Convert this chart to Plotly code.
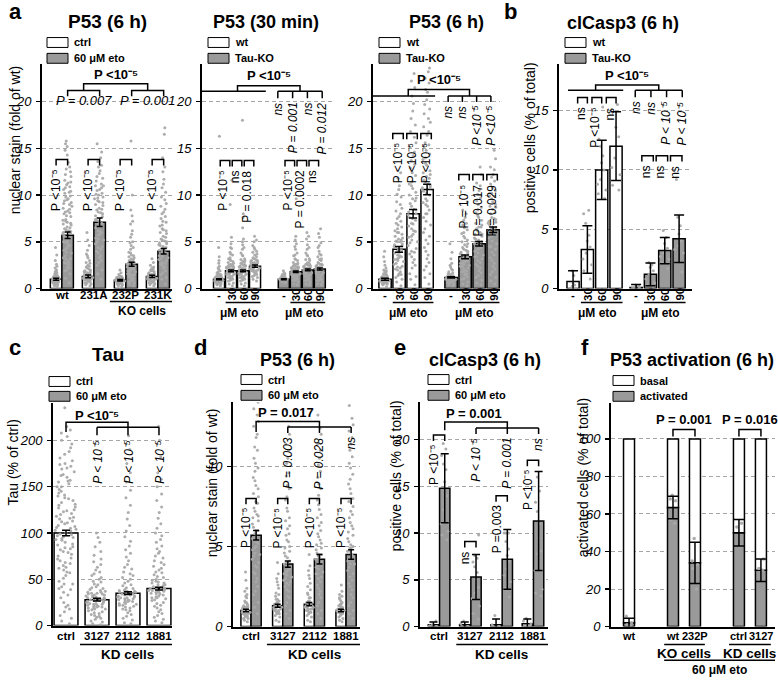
import plotly.graph_objects as go

W, H = 778, 686
FONT = "Arial, 'Liberation Sans', Helvetica, sans-serif"
BAR_GRAY = "#9a9a9a"
DOT_GRAY = "#a9a9a9"
P5 = "P &lt;10⁻⁵"
P5s = "P &lt; 10⁻⁵"

# ======================= DATA =======================
# ---- a1: P53 (6 h), KO cells rescue ----
a1_groups = ["wt", "231A", "232P", "231K"]
a1_ctrl_mean = [1.0, 1.3, 0.9, 1.3]
a1_ctrl_err = [0.1, 0.15, 0.08, 0.12]
a1_eto_mean = [5.7, 7.1, 2.6, 4.0]
a1_eto_err = [0.35, 0.45, 0.22, 0.3]
a1_ctrl_dots = [
    [0.2, 0.4, 0.5, 0.6, 0.7, 0.7, 0.8, 0.8, 0.9, 0.9, 1.0, 1.0, 1.0, 1.1, 1.1, 1.2, 1.2, 1.3, 1.3, 1.4, 1.5, 1.6,
     0.5, 0.6, 0.8, 0.9, 1.0, 1.1, 1.7, 1.9, 2.2, 2.6, 3.0, 3.6, 4.4, 0.3, 0.7, 1.2,
     0.4, 0.5, 0.6, 0.7, 0.8, 0.9, 1.0, 1.1, 1.2, 1.3, 0.6, 0.8, 1.0, 1.2, 1.4, 0.9, 1.1, 2.0, 2.4, 1.8],
    [0.3, 0.5, 0.7, 0.8, 0.9, 1.0, 1.1, 1.2, 1.3, 1.4, 1.5, 1.6, 1.7, 1.8, 1.9, 2.0, 2.2, 2.4, 2.7, 3.0, 3.3, 3.7,
     4.1, 4.6, 5.2, 6.0, 0.6, 1.0, 1.3, 1.5, 1.8, 2.1, 2.5,
     0.4, 0.6, 0.8, 1.0, 1.1, 1.2, 1.4, 1.6, 1.7, 1.9, 2.3, 2.8, 3.5, 0.9, 1.3],
    [0.2, 0.4, 0.5, 0.6, 0.7, 0.8, 0.8, 0.9, 0.9, 1.0, 1.0, 1.1, 1.1, 1.2, 1.3, 1.4, 0.6, 0.7, 0.9, 1.0, 1.2, 1.5,
     1.7, 2.0, 0.5, 0.8, 0.3, 0.5, 0.7, 0.8, 0.9, 1.0, 1.1, 1.2, 0.6, 0.9, 1.0, 1.3],
    [0.3, 0.5, 0.7, 0.8, 0.9, 1.0, 1.1, 1.2, 1.3, 1.4, 1.5, 1.6, 1.7, 1.8, 2.0, 2.2, 2.5, 2.8, 3.2, 0.6, 0.9, 1.1,
     1.3, 1.5, 1.9, 2.3, 1.0, 1.2, 0.4, 0.6, 0.8, 1.0, 1.1, 1.2, 1.4, 1.6, 1.9, 2.1, 0.9, 1.3, 0.7, 1.5],
]
a1_eto_dots = [
    [0.6, 1.1, 1.6, 2.0, 2.3, 2.6, 2.9, 3.2, 3.5, 3.8, 4.1, 4.4, 4.7, 5.0, 5.3, 5.6, 5.9, 6.2, 6.5, 6.8, 7.1, 7.4,
     7.8, 8.2, 8.6, 9.0, 9.4, 9.8, 10.2, 10.6, 11.1, 11.6, 12.2, 12.8, 13.5, 14.3, 15.2, 15.8, 4.9, 5.4, 6.0, 6.6,
     7.2, 8.0, 8.8, 9.6, 10.4, 3.3, 2.8, 1.9, 9.2, 10.9, 11.3,
     3.9, 4.3, 4.6, 5.1, 5.5, 5.8, 6.1, 6.4, 6.9, 7.3, 7.7, 8.1, 8.5, 9.1, 9.5, 9.9, 10.3, 10.8, 11.4, 12.0, 12.5,
     13.0, 2.2, 2.7, 3.1, 14.8, 15.5, 6.3, 7.0, 8.3],
    [1.0, 2.0, 2.8, 3.5, 4.0, 4.5, 5.0, 5.4, 5.8, 6.2, 6.6, 7.0, 7.4, 7.8, 8.2, 8.6, 9.0, 9.4, 9.8, 10.2, 10.6, 11.0,
     11.5, 12.0, 12.6, 13.2, 14.0, 15.5, 6.0, 7.2, 8.0, 9.2, 10.0, 10.8, 5.2, 4.2, 3.0, 8.4, 9.6, 11.2,
     3.3, 3.8, 4.4, 4.8, 5.3, 5.7, 6.1, 6.5, 6.9, 7.3, 7.7, 8.1, 8.5, 8.9, 9.3, 9.7, 10.1, 10.5, 11.0, 11.8, 12.3,
     13.0, 13.6, 14.6, 2.5, 1.6],
    [0.3, 0.6, 0.9, 1.1, 1.3, 1.5, 1.7, 1.9, 2.0, 2.1, 2.2, 2.3, 2.4, 2.5, 2.6, 2.7, 2.8, 3.0, 3.2, 3.4, 3.6, 3.9,
     4.2, 4.6, 5.0, 5.5, 6.2, 6.9, 7.8, 8.4, 10.0, 15.8, 1.8, 2.4, 2.9, 3.3, 1.2, 0.8,
     0.5, 1.0, 1.4, 1.6, 1.9, 2.1, 2.3, 2.5, 2.7, 2.9, 3.1, 3.5, 3.8, 4.4, 4.9, 5.8, 7.2, 0.7, 1.5, 2.2],
    [0.5, 1.0, 1.5, 1.9, 2.2, 2.5, 2.8, 3.0, 3.2, 3.4, 3.6, 3.8, 4.0, 4.2, 4.4, 4.6, 4.8, 5.0, 5.3, 5.6, 6.0, 6.4,
     6.8, 7.2, 7.7, 8.2, 8.8, 9.5, 10.3, 11.2, 12.5, 14.0, 16.5, 17.2, 3.5, 4.1, 5.1, 2.6, 4.5, 6.2,
     1.2, 1.7, 2.3, 2.7, 3.1, 3.3, 3.7, 3.9, 4.3, 4.7, 4.9, 5.2, 5.5, 5.9, 6.3, 6.7, 7.1, 7.5, 8.0, 8.5, 9.1, 9.8,
     10.8, 11.7, 13.0],
]

# ---- a2: P53 (30 min), wt vs Tau-KO ----
dose_labels = ["-", "30", "60", "90"]
a2_wt_mean = [1.0, 1.9, 1.9, 2.4]
a2_wt_err = [0.06, 0.1, 0.1, 0.12]
a2_ko_mean = [1.0, 1.8, 2.0, 2.1]
a2_ko_err = [0.05, 0.09, 0.1, 0.1]
a2_wt_dots = [
    [0.3, 0.5, 0.6, 0.7, 0.8, 0.8, 0.9, 0.9, 1.0, 1.0, 1.1, 1.1, 1.2, 1.2, 1.3, 1.4, 1.5, 1.6, 1.7, 1.9, 2.1, 2.4,
     2.7, 3.0, 3.4, 4.4, 16.3, 0.6, 0.9, 1.0, 1.2, 1.4, 1.0, 0.8,
     0.5, 0.6, 0.7, 0.8, 0.9, 1.0, 1.1, 1.2, 1.3, 1.5, 0.7, 0.9, 1.1, 1.3, 1.8, 2.2, 0.4, 1.0, 1.2, 0.8],
    [0.3, 0.6, 0.8, 1.0, 1.2, 1.3, 1.5, 1.6, 1.7, 1.8, 1.9, 2.0, 2.1, 2.2, 2.3, 2.4, 2.5, 2.7, 2.9, 3.1, 3.3, 3.6,
     3.9, 4.3, 4.8, 5.5, 9.0, 11.6, 1.4, 1.9, 2.2, 2.6, 1.1, 1.7,
     0.5, 0.9, 1.2, 1.5, 1.7, 1.9, 2.1, 2.3, 2.5, 2.8, 3.2, 3.7, 4.4, 1.0, 1.6, 2.0, 2.4, 3.0, 1.8, 2.2],
    [0.3, 0.6, 0.8, 1.0, 1.2, 1.4, 1.5, 1.6, 1.7, 1.8, 1.9, 2.0, 2.1, 2.2, 2.3, 2.4, 2.6, 2.8, 3.0, 3.2, 3.5, 3.8,
     4.2, 4.7, 5.3, 6.5, 7.6, 8.0, 18.0, 1.3, 1.9, 2.5, 1.0,
     0.5, 0.9, 1.2, 1.5, 1.7, 1.9, 2.1, 2.3, 2.5, 2.7, 3.1, 3.6, 4.4, 1.1, 1.6, 2.0, 2.4, 2.9, 1.8, 5.0],
    [0.8, 1.2, 1.5, 1.7, 1.9, 2.0, 2.1, 2.2, 2.3, 2.4, 2.5, 2.6, 2.7, 2.8, 3.0, 3.2, 3.4, 3.6, 3.9, 4.2, 4.6, 5.0,
     5.6, 2.0, 2.4, 2.9, 1.6,
     1.0, 1.4, 1.8, 2.1, 2.3, 2.5, 2.7, 2.9, 3.1, 3.3, 3.7, 4.0, 4.4, 1.9, 2.2, 2.6, 3.0, 2.8, 5.2, 1.3],
]
a2_ko_dots = [
    [0.6, 0.7, 0.8, 0.8, 0.9, 0.9, 1.0, 1.0, 1.0, 1.1, 1.1, 1.2, 1.2, 1.3, 1.4, 1.5, 1.7, 1.9, 0.9, 1.0, 1.1,
     0.7, 0.8, 0.9, 1.0, 1.1, 1.2, 1.3, 0.9, 1.0, 1.1, 1.4, 1.6, 0.8, 1.2],
    [0.4, 0.7, 0.9, 1.1, 1.3, 1.4, 1.5, 1.6, 1.7, 1.8, 1.9, 2.0, 2.1, 2.2, 2.3, 2.4, 2.6, 2.8, 3.0, 3.2, 3.5, 3.8,
     4.2, 4.8, 5.6, 9.6, 1.5, 1.8, 2.0, 2.3, 1.2, 1.6,
     0.5, 0.9, 1.2, 1.5, 1.7, 1.9, 2.1, 2.3, 2.5, 2.7, 3.1, 3.6, 4.5, 1.4, 1.8, 2.2, 2.6, 1.0, 5.2, 2.0],
    [0.4, 0.7, 0.9, 1.1, 1.3, 1.5, 1.6, 1.7, 1.8, 1.9, 2.0, 2.1, 2.2, 2.3, 2.4, 2.6, 2.8, 3.0, 3.2, 3.5, 3.8, 4.2,
     4.7, 5.3, 1.6, 1.9, 2.2, 2.5, 1.2, 6.0,
     0.5, 0.9, 1.2, 1.5, 1.7, 1.9, 2.1, 2.3, 2.5, 2.7, 3.1, 3.6, 4.4, 1.4, 1.8, 2.2, 2.6, 1.0, 5.6, 2.0],
    [0.4, 0.7, 0.9, 1.1, 1.3, 1.5, 1.7, 1.8, 1.9, 2.0, 2.1, 2.2, 2.3, 2.4, 2.6, 2.8, 3.0, 3.2, 3.4, 3.7, 4.0, 4.4,
     4.9, 5.5, 6.4, 1.6, 2.0, 2.5, 1.0,
     0.5, 0.9, 1.2, 1.5, 1.7, 1.9, 2.1, 2.3, 2.5, 2.7, 3.1, 3.6, 4.6, 1.4, 1.8, 2.2, 2.6, 1.0, 5.9, 2.0],
]

# ---- a3: P53 (6 h), wt vs Tau-KO ----
a3_wt_mean = [1.0, 4.2, 8.0, 10.6]
a3_wt_err = [0.1, 0.3, 0.45, 0.55]
a3_ko_mean = [1.2, 3.4, 4.8, 6.3]
a3_ko_err = [0.08, 0.2, 0.25, 0.3]
a3_wt_dots = [
    [0.2, 0.4, 0.5, 0.6, 0.7, 0.8, 0.8, 0.9, 0.9, 1.0, 1.0, 1.1, 1.1, 1.2, 1.3, 1.4, 1.5, 1.7, 1.9, 2.2, 2.5, 2.9,
     3.4, 4.0, 0.6, 0.9, 1.2, 1.0, 0.7, 1.6,
     0.5, 0.6, 0.7, 0.8, 0.9, 1.0, 1.1, 1.2, 1.3, 1.5, 0.7, 0.9, 1.1, 1.8, 2.0],
    [0.3, 0.7, 1.0, 1.4, 1.8, 2.1, 2.4, 2.7, 3.0, 3.3, 3.6, 3.9, 4.2, 4.5, 4.8, 5.1, 5.4, 5.8, 6.2, 6.6, 7.0, 7.5,
     8.0, 8.6, 9.3, 10.1, 11.0, 12.4, 2.0, 3.1, 4.0, 5.0, 6.0, 1.2, 2.6, 3.5,
     1.5, 2.3, 2.9, 3.4, 3.8, 4.1, 4.4, 4.7, 5.0, 5.3, 5.6, 6.0, 6.4, 6.8, 7.2, 7.7, 8.3, 9.0, 9.8, 10.6, 3.2, 4.6,
     5.2, 2.2, 1.6, 11.8],
    [0.4, 1.0, 1.6, 2.2, 2.8, 3.4, 4.0, 4.6, 5.2, 5.8, 6.4, 7.0, 7.6, 8.2, 8.8, 9.4, 10.0, 10.7, 11.4, 12.1, 12.9,
     13.7, 14.6, 15.6, 16.8, 18.2, 19.8, 21.5, 23.0, 5.5, 7.3, 8.5, 9.7, 6.7, 3.7, 11.0,
     1.3, 2.5, 3.1, 3.9, 4.3, 4.9, 5.6, 6.1, 6.9, 7.5, 7.9, 8.4, 9.1, 9.6, 10.3, 11.2, 12.4, 13.3, 14.2, 15.1, 16.2,
     17.5, 19.0, 20.6, 22.2, 8.0, 6.2, 5.0],
    [0.5, 1.2, 2.0, 2.8, 3.6, 4.4, 5.2, 6.0, 6.8, 7.6, 8.4, 9.2, 10.0, 10.8, 11.6, 12.4, 13.2, 14.0, 14.8, 15.6,
     16.4, 17.3, 18.2, 19.2, 20.2, 21.3, 22.5, 23.6, 9.0, 10.4, 11.2, 12.0, 8.0, 13.8, 15.2,
     1.6, 2.4, 3.2, 4.0, 4.8, 5.6, 6.4, 7.2, 8.0, 8.8, 9.6, 10.2, 10.6, 11.0, 11.4, 11.8, 12.6, 13.4, 14.4, 15.4,
     16.8, 17.8, 18.7, 19.7, 21.0, 22.0, 23.2, 9.4, 10.8, 12.2],
]
a3_ko_dots = [
    [0.3, 0.5, 0.6, 0.7, 0.8, 0.9, 1.0, 1.0, 1.1, 1.1, 1.2, 1.3, 1.4, 1.5, 1.6, 1.8, 2.0, 2.3, 2.7, 3.2, 3.9, 4.8,
     0.8, 1.2, 1.0, 0.9, 0.4, 0.6, 0.8, 0.9, 1.0, 1.1, 1.2, 1.3, 1.5, 1.7, 2.1, 2.5, 0.7, 1.4],
    [0.3, 0.7, 1.0, 1.3, 1.6, 1.9, 2.2, 2.5, 2.8, 3.0, 3.2, 3.4, 3.6, 3.9, 4.2, 4.5, 4.8, 5.2, 5.6, 6.0, 6.5, 7.0,
     7.6, 8.4, 9.3, 2.4, 3.3, 2.9, 4.0, 1.8,
     0.5, 1.1, 1.5, 1.8, 2.1, 2.4, 2.7, 3.1, 3.3, 3.5, 3.8, 4.1, 4.4, 4.7, 5.0, 5.4, 5.9, 6.3, 6.8, 7.3, 8.0, 2.6,
     3.7, 3.0],
    [0.4, 0.9, 1.4, 1.9, 2.4, 2.8, 3.2, 3.6, 4.0, 4.4, 4.8, 5.2, 5.6, 6.0, 6.4, 6.8, 7.3, 7.8, 8.4, 9.0, 9.7, 10.5,
     11.3, 12.2, 13.0, 4.6, 5.0, 3.4, 5.8, 6.6,
     0.6, 1.2, 1.7, 2.2, 2.6, 3.0, 3.4, 3.8, 4.2, 4.6, 5.0, 5.4, 5.8, 6.2, 6.6, 7.0, 7.6, 8.1, 8.7, 9.4, 10.1, 11.0,
     4.3, 4.9, 5.3],
    [0.5, 1.2, 1.8, 2.4, 3.0, 3.6, 4.2, 4.8, 5.4, 6.0, 6.5, 7.0, 7.5, 8.0, 8.5, 9.0, 9.6, 10.2, 10.8, 11.5, 12.2,
     13.0, 13.9, 14.8, 5.7, 6.3, 6.8, 7.2, 4.5, 8.8,
     0.8, 1.5, 2.1, 2.7, 3.3, 3.9, 4.5, 5.1, 5.6, 6.1, 6.6, 7.1, 7.6, 8.1, 8.7, 9.3, 9.9, 10.5, 11.2, 11.9, 12.7,
     6.2, 6.4, 5.9, 7.4],
]

# ---- b: clCasp3 (6 h), wt vs Tau-KO ----
b_wt_mean = [0.6, 3.3, 10.0, 12.0]
b_wt_err = [0.9, 2.0, 2.5, 2.9]
b_ko_mean = [0.1, 1.2, 3.2, 4.2]
b_ko_err = [0.25, 0.95, 1.1, 2.0]
b_wt_dots = [
    [0.0, 0.0, 0.0, 0.3, 0.5, 1.1, 1.5, 0.0, 0.2],
    [0.8, 1.5, 2.0, 2.5, 3.0, 3.5, 4.0, 4.5, 5.5, 6.3, 6.6],
    [7.6, 8.0, 8.3, 8.8, 9.2, 10.0, 10.6, 11.2, 12.0, 12.6, 15.3],
    [8.3, 8.7, 10.2, 11.0, 12.8, 13.6, 15.5, 9.6],
]
b_ko_dots = [
    [0.0, 0.0, 0.1, 0.2, 0.3, 0.0, 0.0],
    [0.2, 0.5, 0.8, 1.2, 1.5, 1.8, 2.0, 2.2, 0.3],
    [1.7, 2.2, 2.7, 3.0, 3.4, 3.8, 4.3, 4.9, 2.5],
    [1.4, 2.2, 3.0, 3.6, 4.0, 4.6, 5.3, 6.0, 9.2, 3.3],
]

# ---- c: Tau in KD cells ----
kd_groups = ["ctrl", "3127", "2112", "1881"]
c_mean = [100, 28, 35, 40]
c_err = [3, 1.5, 1.5, 1.5]
c_dots = [
    [2, 8, 15, 22, 30, 36, 42, 48, 54, 60, 65, 70, 75, 80, 85, 90, 95, 100, 105, 110, 115, 120, 125, 130, 135, 140,
     145, 150, 155, 160, 166, 172, 178, 185, 192, 200, 208, 215, 58, 72, 88, 98, 108, 118, 128, 138, 150, 162, 174,
     45, 82, 102, 124, 96, 112, 235,
     5, 11, 18, 25, 33, 39, 45, 51, 57, 63, 67, 73, 77, 83, 87, 93, 97, 103, 107, 113, 117, 123, 127, 133, 137, 143,
     147, 153, 157, 163, 169, 175, 181, 188, 196, 204, 211, 20, 40, 62, 79, 92, 99, 104, 111, 121, 131, 141, 156,
     170, 68, 84, 94, 106, 116],
    [1, 4, 7, 10, 13, 16, 18, 20, 22, 24, 26, 28, 30, 32, 34, 36, 38, 40, 42, 45, 48, 52, 56, 60, 66, 72, 80, 90,
     100, 15, 21, 25, 29, 33, 27, 19, 23, 31, 35,
     2, 5, 8, 11, 14, 17, 19, 21, 23, 25, 27, 29, 31, 33, 35, 37, 39, 41, 44, 47, 50, 54, 58, 63, 69, 76, 85, 95, 18,
     22, 26, 30, 34, 28, 24, 20, 32, 36, 12, 9],
    [2, 6, 10, 14, 17, 20, 23, 26, 28, 30, 32, 34, 36, 38, 40, 43, 46, 50, 54, 58, 63, 70, 78, 86, 96, 108, 122, 138,
     155, 175, 205, 25, 29, 33, 37, 31, 27, 22,
     3, 8, 12, 16, 19, 22, 24, 27, 29, 31, 33, 35, 37, 39, 41, 44, 48, 52, 56, 61, 66, 74, 82, 91, 102, 115, 130, 146,
     165, 190, 24, 28, 32, 36, 30, 26, 34, 38, 21, 18],
    [3, 7, 11, 15, 19, 22, 25, 28, 31, 34, 37, 40, 43, 46, 49, 52, 55, 58, 62, 66, 70, 75, 80, 86, 93, 100, 110, 122,
     135, 150, 165, 215, 35, 39, 44, 48, 41, 36, 30,
     5, 9, 13, 17, 21, 24, 27, 30, 33, 36, 38, 41, 44, 47, 50, 53, 57, 60, 64, 68, 73, 78, 83, 90, 97, 105, 116, 128,
     142, 158, 182, 200, 34, 38, 42, 46, 40, 37, 32, 29],
]

# ---- d: P53 (6 h) in KD cells ----
d_ctrl_mean = [1.0, 1.3, 1.4, 1.0]
d_ctrl_err = [0.08, 0.1, 0.1, 0.08]
d_eto_mean = [5.7, 3.9, 4.2, 4.5]
d_eto_err = [0.3, 0.2, 0.3, 0.3]
d_ctrl_dots = [
    [0.3, 0.5, 0.6, 0.7, 0.8, 0.8, 0.9, 0.9, 1.0, 1.0, 1.0, 1.1, 1.1, 1.2, 1.2, 1.3, 1.4, 1.5, 1.6, 1.8, 2.0, 2.4,
     2.9, 3.4, 0.7, 1.0, 1.2, 0.4, 0.6, 0.7, 0.8, 0.9, 1.0, 1.1, 1.2, 1.3, 0.8, 1.0, 1.2, 1.5, 1.9, 2.2, 0.5],
    [0.3, 0.6, 0.8, 0.9, 1.0, 1.1, 1.2, 1.3, 1.4, 1.5, 1.6, 1.7, 1.9, 2.1, 2.4, 2.8, 3.3, 4.0, 1.0, 1.2, 1.4, 0.8,
     0.4, 0.7, 0.9, 1.0, 1.1, 1.2, 1.3, 1.4, 1.5, 1.7, 2.0, 2.6, 3.0, 1.1, 1.3, 0.9],
    [0.3, 0.6, 0.8, 0.9, 1.0, 1.1, 1.2, 1.3, 1.4, 1.5, 1.6, 1.8, 2.0, 2.3, 2.7, 3.2, 3.8, 4.5, 1.1, 1.3, 1.5, 0.9,
     0.4, 0.7, 0.9, 1.0, 1.1, 1.2, 1.3, 1.4, 1.6, 1.8, 2.1, 2.5, 3.0, 3.5, 1.2, 1.4],
    [0.3, 0.5, 0.7, 0.8, 0.9, 1.0, 1.0, 1.1, 1.2, 1.3, 1.4, 1.5, 1.7, 1.9, 2.2, 2.6, 0.9, 1.0, 1.1, 0.8,
     0.4, 0.6, 0.8, 0.9, 1.0, 1.1, 1.2, 1.3, 1.4, 1.6, 1.8, 2.0, 0.9, 1.1],
]
d_eto_dots = [
    [0.8, 1.5, 2.0, 2.5, 3.0, 3.4, 3.8, 4.2, 4.6, 5.0, 5.4, 5.8, 6.2, 6.6, 7.0, 7.4, 7.8, 8.3, 8.8, 9.3, 9.9, 10.5,
     11.2, 12.0, 12.8, 13.6, 14.0, 5.2, 6.0, 4.4, 6.8,
     1.2, 2.2, 2.8, 3.3, 3.7, 4.0, 4.5, 4.9, 5.3, 5.6, 6.0, 6.4, 6.9, 7.2, 7.7, 8.1, 8.6, 9.1, 9.7, 10.2, 11.0, 11.8,
     12.5, 13.2, 4.8, 5.5],
    [0.5, 1.0, 1.5, 1.9, 2.3, 2.6, 2.9, 3.2, 3.5, 3.8, 4.1, 4.4, 4.7, 5.0, 5.4, 5.8, 6.3, 6.8, 7.4, 8.1, 8.8, 9.6,
     10.5, 11.4, 12.5, 13.5, 3.0, 3.6, 4.0, 2.7,
     0.8, 1.3, 1.8, 2.2, 2.5, 2.8, 3.1, 3.4, 3.7, 4.0, 4.3, 4.6, 4.9, 5.3, 5.7, 6.1, 6.6, 7.2, 7.9, 8.6, 9.4, 10.2,
     11.0, 12.0, 3.3, 3.9],
    [0.5, 1.0, 1.5, 2.0, 2.4, 2.8, 3.1, 3.4, 3.7, 4.0, 4.3, 4.6, 4.9, 5.2, 5.6, 6.0, 6.5, 7.0, 7.6, 8.2, 8.9, 9.7,
     10.5, 11.4, 12.4, 13.2, 3.8, 4.2, 4.5, 3.3,
     0.8, 1.3, 1.8, 2.2, 2.6, 3.0, 3.3, 3.6, 3.9, 4.2, 4.5, 4.8, 5.1, 5.4, 5.8, 6.3, 6.8, 7.3, 7.9, 8.6, 9.3, 10.1,
     11.0, 12.0, 4.0, 4.4],
    [0.5, 1.0, 1.5, 2.0, 2.5, 2.9, 3.3, 3.7, 4.1, 4.5, 4.9, 5.3, 5.7, 6.1, 6.5, 7.0, 7.5, 8.0, 8.6, 9.2, 9.9, 10.6,
     11.4, 12.2, 13.0, 13.8, 4.2, 4.7, 5.0, 3.9,
     0.8, 1.3, 1.8, 2.3, 2.7, 3.1, 3.5, 3.9, 4.3, 4.7, 5.1, 5.5, 5.9, 6.3, 6.8, 7.2, 7.8, 8.3, 8.9, 9.5, 10.2, 11.0,
     11.8, 12.6, 4.4, 4.9],
]

# ---- e: clCasp3 (6 h) in KD cells ----
e_ctrl_mean = [0.2, 0.2, 0.2, 0.3]
e_ctrl_err = [0.3, 0.3, 0.6, 0.5]
e_eto_mean = [14.8, 5.3, 7.2, 11.3]
e_eto_err = [3.7, 2.4, 3.2, 5.3]
e_ctrl_dots = [
    [0.0, 0.0, 0.0, 0.2, 0.6, 0.1],
    [0.0, 0.0, 0.0, 0.3, 0.6],
    [0.0, 0.0, 0.0, 0.2, 1.2],
    [0.0, 0.0, 0.3, 0.6, 0.9],
]
e_eto_dots = [
    [9.3, 9.8, 10.2, 11.0, 12.5, 14.0, 15.5, 16.8, 17.4, 18.3, 19.0, 19.6],
    [0.8, 1.4, 2.2, 3.0, 3.6, 4.2, 5.0, 5.8, 6.4, 6.9, 7.3, 7.6, 9.8],
    [3.2, 4.1, 4.8, 5.5, 6.2, 7.0, 7.6, 8.3, 9.1, 10.0, 10.0, 10.0],
    [3.3, 3.6, 4.0, 6.0, 7.8, 8.1, 9.5, 11.0, 12.3, 13.3, 14.5, 16.0],
]

# ---- f: P53 activation (6 h) ----
f_labels = ["wt", "wt", "232P", "ctrl", "3127"]
f_activated = [2.0, 63.5, 34.0, 50.0, 30.0]
f_err = [2.5, 6.0, 11.0, 7.0, 6.0]
f_dots = [
    [1.0, 2.0, 5.5, 0.5],
    [70.0, 67.0, 57.0, 55.0, 68.0],
    [47.0, 35.0, 33.0, 31.0, 20.0],
    [55.0, 53.0, 43.0],
    [36.0, 30.0, 31.0],
]

# ======================= FIGURE HELPERS =======================
fig = go.Figure()
AX = {}


def make_axes(name, x0, x1, ytop, ybot, yr, xr, dtick):
    n = len(AX) + 1
    s = "" if n == 1 else str(n)
    fig.update_layout(**{
        "xaxis" + s: dict(domain=[x0 / W, x1 / W], range=xr, anchor="y" + s,
                          showticklabels=False, ticks="", showgrid=False, zeroline=False,
                          showline=True, linecolor="black", linewidth=2, fixedrange=True),
        "yaxis" + s: dict(domain=[1 - ybot / H, 1 - ytop / H], range=yr, anchor="x" + s,
                          showline=True, linecolor="black", linewidth=2, ticks="outside",
                          ticklen=4, tickwidth=1.5, tickcolor="black", dtick=dtick, tick0=0,
                          showgrid=True, gridcolor="#a6a6a6", griddash="4px,3px", gridwidth=1,
                          zeroline=False, fixedrange=True, ticklabelstandoff=2,
                          tickfont=dict(family=FONT, size=13, color="black", style="italic")),
    })
    AX[name] = dict(x="x" + s, y="y" + s, ytop=ytop, ybot=ybot, yr=yr, xr=xr, x0=x0, x1=x1)


def dpy(ax, px):
    a = AX[ax]
    return px * (a["yr"][1] - a["yr"][0]) / (a["ybot"] - a["ytop"])


def add_bars(ax, xs, ys, w, color, base=None):
    a = AX[ax]
    fig.add_trace(go.Bar(x=xs, y=ys, base=base, width=w, xaxis=a["x"], yaxis=a["y"],
                         marker=dict(color=color, line=dict(color="black", width=1.5)),
                         showlegend=False, hoverinfo="skip"))


def add_dots(ax, pos, vals, w, size=3):
    a = AX[ax]
    fig.add_trace(go.Box(y=vals, x0=pos, width=w, boxpoints="all", jitter=1.0, pointpos=0,
                         fillcolor="rgba(0,0,0,0)", line=dict(color="rgba(0,0,0,0)", width=0),
                         marker=dict(size=size, color=DOT_GRAY, opacity=0.95),
                         xaxis=a["x"], yaxis=a["y"], showlegend=False, hoverinfo="skip"))


def add_err(ax, xs, ys, errs, cap=3):
    a = AX[ax]
    fig.add_trace(go.Scatter(x=xs, y=ys, mode="markers", marker=dict(size=1, color="rgba(0,0,0,0)"),
                             error_y=dict(type="data", array=errs, visible=True, color="black",
                                          thickness=1.5, width=cap),
                             xaxis=a["x"], yaxis=a["y"], showlegend=False, hoverinfo="skip"))


def path(ax, pts, lw=1.5):
    a = AX[ax]
    d = "M" + "L".join(f"{x},{y}" for x, y in pts)
    fig.add_shape(type="path", path=d, xref=a["x"], yref=a["y"], line=dict(color="black", width=lw))


def bracket(ax, xa, xb, y, drop=6):
    dd = dpy(ax, drop)
    path(ax, [(xa, y - dd), (xa, y), (xb, y), (xb, y - dd)])


def ticked_line(ax, xa, xb, y, n, drop=6):
    path(ax, [(xa, y), (xb, y)])
    dd = dpy(ax, drop)
    xs = [xa + (xb - xa) * k / (n - 1) for k in range(n)]
    for x in xs:
        path(ax, [(x, y), (x, y - dd)])
    return xs


def vlabel(ax, x, y, text, size=12):
    a = AX[ax]
    fig.add_annotation(x=x, y=y, xref=a["x"], yref=a["y"], text=text, textangle=-90, showarrow=False,
                       xanchor="center", yanchor="top", borderpad=0,
                       font=dict(family=FONT, size=size, color="black"))


def hlabel(ax, x, y, text, size=13):
    a = AX[ax]
    fig.add_annotation(x=x, y=y, xref=a["x"], yref=a["y"], text=text, showarrow=False,
                       xanchor="center", yanchor="middle", borderpad=0,
                       font=dict(family=FONT, size=size, color="black"))


def xlabel(ax, x, ypx, text, rot=False, size=11.5, bold=True):
    a = AX[ax]
    fig.add_annotation(x=x, y=1 - ypx / H, xref=a["x"], yref="paper",
                       text=("<b>%s</b>" % text) if bold else text, showarrow=False,
                       textangle=-90 if rot else 0, xanchor="center", yanchor="middle", borderpad=0,
                       font=dict(family=FONT, size=size, color="black"))


def xline(ax, xa, xb, ypx):
    a = AX[ax]
    fig.add_shape(type="line", x0=xa, x1=xb, y0=1 - ypx / H, y1=1 - ypx / H, xref=a["x"], yref="paper",
                  line=dict(color="black", width=1.5))


def ptext(xpx, ypx, text, size, angle=0, anchor="center"):
    fig.add_annotation(x=xpx / W, y=1 - ypx / H, xref="paper", yref="paper", text=text, showarrow=False,
                       textangle=angle, xanchor=anchor, yanchor="middle", borderpad=0,
                       font=dict(family=FONT, size=size, color="black"))


def legend(xpx, y1, y2, labels):
    for yy, col, lab in [(y1, "white", labels[0]), (y2, BAR_GRAY, labels[1])]:
        fig.add_shape(type="rect", xref="paper", yref="paper", x0=xpx / W, x1=(xpx + 21) / W,
                      y0=1 - (yy + 5) / H, y1=1 - (yy - 5) / H, fillcolor=col,
                      line=dict(color="black", width=1))
        ptext(xpx + 26, yy, "<b>%s</b>" % lab, 11, anchor="left")


def grouped_panel(ax, xc, xe, cm, ce, cd, em, ee, ed, w, cap=3, dsize=3):
    add_bars(ax, xc, cm, w, "white")
    add_bars(ax, xe, em, w, BAR_GRAY)
    for x, v in zip(xc, cd):
        add_dots(ax, x, v, w * 0.9, dsize)
    for x, v in zip(xe, ed):
        add_dots(ax, x, v, w * 0.9, dsize)
    add_err(ax, xc, cm, ce, cap)
    add_err(ax, xe, em, ee, cap)


TOP_TICK, TOP_LINE, TOP_GROUP = 298, 306, 316
BOT_TICK, BOT_LINE, BOT_GROUP, BOT_LINE2, BOT_GROUP2 = 644, 652, 661, 668, 677

# ======================= PANEL a1 =======================
make_axes("a1", 42, 172, 65, 292, [0, 24], [-0.62, 3.44], 5)
a1_xc = [i - 0.18 for i in range(len(a1_groups))]
a1_xe = [i + 0.18 for i in range(len(a1_groups))]
grouped_panel("a1", a1_xc, a1_xe, a1_ctrl_mean, a1_ctrl_err, a1_ctrl_dots,
              a1_eto_mean, a1_eto_err, a1_eto_dots, 0.36)
for i in range(len(a1_groups)):
    bracket("a1", a1_xc[i], a1_xe[i], 13.8)
    vlabel("a1", a1_xc[i] + 0.02, 13.8 - dpy("a1", 9), P5, 12.5)
    xlabel("a1", i, TOP_TICK, a1_groups[i])
bracket("a1", a1_xe[0], a1_xe[1], 21.2)
bracket("a1", a1_xe[2], a1_xe[3], 21.2)
m1 = (a1_xe[0] + a1_xe[1]) / 2
m2 = (a1_xe[2] + a1_xe[3]) / 2
hlabel("a1", m1, 20.1, "<i>P = 0.007</i>", 13)
hlabel("a1", m2, 20.1, "<i>P = 0.001</i>", 13)
path("a1", [(m1, 21.2), (m1, 21.9), (m2, 21.9), (m2, 21.2)])
hlabel("a1", (m1 + m2) / 2, 22.9, "<b>" + P5 + "</b>", 13)
xline("a1", 1.5, 3.44, TOP_LINE - 1)
xlabel("a1", 2.5, TOP_GROUP - 1, "KO cells", size=12)

# ======================= PANEL a2 =======================
make_axes("a2", 202, 333, 65, 292, [0, 24], [-1.42, 9.5], 5)
a2_wt_x = [0, 1, 2, 3]
a2_ko_x = [5.4, 6.4, 7.4, 8.4]
grouped_panel("a2", a2_wt_x, a2_ko_x, a2_wt_mean, a2_wt_err, a2_wt_dots,
              a2_ko_mean, a2_ko_err, a2_ko_dots, 0.92, cap=3)
for k, lab in enumerate([P5, "ns", "P = 0.018"]):
    xa, xb = a2_wt_x[k] + 0.1, a2_wt_x[k + 1] - 0.1
    bracket("a2", xa, xb, 13.7)
    vlabel("a2", (xa + xb) / 2 - 0.15, 13.7 - dpy("a2", 9), lab)
for k, lab in enumerate([P5, "P = 0.0002", "ns"]):
    xa, xb = a2_ko_x[k] + 0.1, a2_ko_x[k + 1] - 0.1
    bracket("a2", xa, xb, 13.7)
    vlabel("a2", (xa + xb) / 2 - 0.15, 13.7 - dpy("a2", 9), lab)
path("a2", [(-1.42, 21.1), (3.9, 21.1)])
tx = ticked_line("a2", 4.9, 8.6, 21.1, 4, drop=7)
for x, lab in zip(tx, ["ns", "P = 0.001", "ns", "P = 0.012"]):
    vlabel("a2", x, 21.1 - dpy("a2", 10), "<i>%s</i>" % lab)
ml, mr = (-1.42 + 3.9) / 2 + 0.3, (4.9 + 8.6) / 2
path("a2", [(ml, 21.1), (ml, 21.7), (mr, 21.7), (mr, 21.1)])
hlabel("a2", (ml + mr) / 2, 22.75, "<b>" + P5 + "</b>", 13)

# ======================= PANEL a3 =======================
make_axes("a3", 373, 500, 65, 292, [0, 24], [-0.86, 8.2], 5)
a3_wt_x = [0, 1, 2, 3]
a3_ko_x = [4.71, 5.71, 6.71, 7.71]
grouped_panel("a3", a3_wt_x, a3_ko_x, a3_wt_mean, a3_wt_err, a3_wt_dots,
              a3_ko_mean, a3_ko_err, a3_ko_dots, 0.88, cap=4)
for k in range(1, 4):
    xa, xb = a3_wt_x[k] - 0.45, a3_wt_x[k] + 0.3
    bracket("a3", xa, xb, 16.6)
    vlabel("a3", (xa + xb) / 2, 16.6 - dpy("a3", 9), P5)
for k, lab in zip(range(1, 4), ["P = 10⁻⁵", "P = 0.017", "P = 0.029"]):
    xa, xb = a3_ko_x[k] - 0.45, a3_ko_x[k] + 0.3
    bracket("a3", xa, xb, 12.2)
    vlabel("a3", (xa + xb) / 2, 12.2 - dpy("a3", 9), lab)
path("a3", [(-0.86, 20.6), (3.57, 20.6)])
tx = ticked_line("a3", 4.5, 7.55, 20.6, 4, drop=6)
for x, lab in zip(tx, ["ns", "ns", P5, P5]):
    vlabel("a3", x, 20.6 - dpy("a3", 9), "<i>%s</i>" % lab)
ml, mr = (-0.86 + 3.57) / 2 + 0.3, (4.5 + 7.55) / 2
path("a3", [(ml, 20.6), (ml, 21.3), (mr, 21.3), (mr, 20.6)])
hlabel("a3", (ml + mr) / 2, 22.4, "<b>" + P5 + "</b>", 13)

for ax, wx, kx in [("a2", a2_wt_x, a2_ko_x), ("a3", a3_wt_x, a3_ko_x)]:
    for grp in (wx, kx):
        for x, lab in zip(grp, dose_labels):
            xlabel(ax, x, TOP_TICK, lab, rot=(lab != "-"))
        xline(ax, grp[1] - 0.45, grp[3] + 0.45, TOP_LINE)
        xlabel(ax, (grp[1] + grp[3]) / 2 - 0.3, TOP_GROUP + 1, "μM eto", size=12)

# ======================= PANEL b =======================
make_axes("b", 559, 692, 65, 292, [0, 18.9], [-0.98, 8.3], 5)
b_wt_x = [0, 1, 2, 3]
b_ko_x = [4.4, 5.4, 6.4, 7.4]
grouped_panel("b", b_wt_x, b_ko_x, b_wt_mean, b_wt_err, b_wt_dots,
              b_ko_mean, b_ko_err, b_ko_dots, 0.85, cap=5)
for k, lab in zip(range(1, 4), ["ns", P5, "ns"]):
    xa, xb = b_wt_x[k] - 0.68, b_wt_x[k] - 0.0
    bracket("b", xa, xb, 16.1)
    vlabel("b", (xa + xb) / 2 - 0.1, 16.1 - dpy("b", 9), lab)
for k in range(1, 4):
    xa, xb = b_ko_x[k] - 0.6, b_ko_x[k] + 0.2
    bracket("b", xa, xb, 11.2)
    vlabel("b", (xa + xb) / 2 - 0.1, 11.2 - dpy("b", 9), "ns")
path("b", [(-0.35, 16.7), (3.5, 16.7)])
tx = ticked_line("b", 4.34, 7.62, 16.7, 4, drop=7)
for x, lab in zip(tx, ["ns", "ns", P5s, P5s]):
    vlabel("b", x, 16.7 - dpy("b", 10), "<i>%s</i>" % lab)
ml, mr = (-0.35 + 3.5) / 2, (4.34 + 7.62) / 2
path("b", [(ml, 16.7), (ml, 17.15), (mr, 17.15), (mr, 16.7)])
hlabel("b", (ml + mr) / 2, 17.95, "<b>" + P5 + "</b>", 13)
for grp in (b_wt_x, b_ko_x):
    for x, lab in zip(grp, dose_labels):
        xlabel("b", x, TOP_TICK, lab, rot=(lab != "-"))
    xline("b", grp[1] - 0.45, grp[3] + 0.45, TOP_LINE)
    xlabel("b", (grp[1] + grp[3]) / 2 - 0.3, TOP_GROUP + 1, "μM eto", size=12)

# ======================= PANEL c =======================
make_axes("c", 53, 172, 408, 633, [0, 240], [-0.42, 3.42], 50)
c_x = [0, 1, 2, 3]
add_bars("c", c_x, c_mean, 0.77, "white")
for x, v in zip(c_x, c_dots):
    add_dots("c", x, v, 0.72)
add_err("c", c_x, c_mean, c_err, 4)
path("c", [(0, 209), (0, 219.5), (2, 219.5), (2, 214)])
tx = ticked_line("c", 1, 3, 214, 3, drop=8)
for x in tx:
    vlabel("c", x + 0.05, 214 - dpy("c", 12), "<i>%s</i>" % P5s)
hlabel("c", 1.0, 227, "<b>" + P5 + "</b>", 13)
for x, lab in zip(c_x, kd_groups):
    xlabel("c", x, BOT_TICK, lab)
xline("c", 0.45, 3.42, BOT_LINE)
xlabel("c", 2.0, BOT_GROUP + 1, "KD cells", size=13.5)

# ======================= PANEL d =======================
make_axes("d", 233, 360, 407, 634, [0, 14], [-0.57, 3.44], 5)
d_xc = [i - 0.16 for i in range(4)]
d_xe = [i + 0.16 for i in range(4)]
grouped_panel("d", d_xc, d_xe, d_ctrl_mean, d_ctrl_err, d_ctrl_dots,
              d_eto_mean, d_eto_err, d_eto_dots, 0.32)
for i in range(4):
    bracket("d", d_xc[i], d_xe[i], 8.0)
    vlabel("d", d_xc[i] + 0.02, 8.0 - dpy("d", 9), P5)
    xlabel("d", i, BOT_TICK, kd_groups[i])
path("d", [(d_xe[0], 12.15), (d_xe[0], 12.8), (d_xe[2], 12.8), (d_xe[2], 12.45)])
tx = ticked_line("d", d_xe[1], d_xe[3], 12.45, 3, drop=6)
for x, lab in zip(tx, ["P = 0.003", "P = 0.028", "ns"]):
    vlabel("d", x, 12.45 - dpy("d", 9), "<i>%s</i>" % lab)
hlabel("d", d_xe[1] - 0.05, 13.35, "<b>P = 0.017</b>", 13)
xline("d", 0.5, 3.44, BOT_LINE)
xlabel("d", 2.0, BOT_GROUP + 1, "KD cells", size=13.5)

# ======================= PANEL e =======================
make_axes("e", 420, 548, 407, 634, [0, 24], [-0.61, 3.48], 5)
e_xc = [i - 0.18 for i in range(4)]
e_xe = [i + 0.18 for i in range(4)]
grouped_panel("e", e_xc, e_xe, e_ctrl_mean, e_ctrl_err, e_ctrl_dots,
              e_eto_mean, e_eto_err, e_eto_dots, 0.33, cap=4)
for i, (yy, lab) in enumerate(zip([20.5, 9.1, 14.0, 17.8], [P5, "ns", "P =0.003", P5])):
    bracket("e", e_xc[i], e_xe[i], yy)
    vlabel("e", e_xc[i] + 0.02, yy - dpy("e", 9), lab)
    xlabel("e", i, BOT_TICK, kd_groups[i])
path("e", [(e_xe[0], 21.0), (e_xe[0], 21.9), (e_xe[2], 21.9), (e_xe[2], 21.25)])
tx = ticked_line("e", e_xe[1], e_xe[3], 21.25, 3, drop=6)
for x, lab in zip(tx, [P5s, "P = 0.001", "ns"]):
    vlabel("e", x, 21.25 - dpy("e", 9), "<i>%s</i>" % lab)
hlabel("e", e_xe[1] - 0.05, 22.75, "<b>P = 0.001</b>", 13)
xline("e", 0.55, 3.48, BOT_LINE)
xlabel("e", 2.0, BOT_GROUP + 1, "KD cells", size=13.5)

# ======================= PANEL f =======================
make_axes("f", 611, 775, 408, 634, [0, 119], [-0.82, 6.64], 20)
f_x = [0, 2, 3, 5, 6]
add_bars("f", f_x, f_activated, 0.5, BAR_GRAY)
add_bars("f", f_x, [100 - v for v in f_activated], 0.5, "white", base=f_activated)
for x, v in zip(f_x, f_dots):
    add_dots("f", x, v, 0.3, 3.5)
add_err("f", f_x, f_activated, f_err, 5)
bracket("f", 2, 3, 105, drop=7)
hlabel("f", 2.5, 110.5, "<b>P = 0.001</b>", 13)
bracket("f", 5, 6, 105, drop=7)
hlabel("f", 5.5, 110.5, "<b>P = 0.016</b>", 13)
for x, lab in zip(f_x, f_labels):
    xlabel("f", x, BOT_TICK, lab, size=11)
xline("f", 1.6, 3.45, BOT_LINE)
xlabel("f", 2.5, BOT_GROUP, "KO cells", size=13.5)
xline("f", 4.55, 6.45, BOT_LINE)
xlabel("f", 5.5, BOT_GROUP, "KD cells", size=13.5)
xline("f", 1.6, 6.64, BOT_LINE2)
xlabel("f", 4.1, BOT_GROUP2 + 1, "60 μM eto", size=12)

# ======================= TITLES, LEGENDS, LETTERS =======================
for x, y, t in [(8, 12, "a"), (503, 12, "b"), (8, 352, "c"), (193, 352, "d"), (393, 352, "e"), (580, 352, "f")]:
    ptext(x, y, "<b>%s</b>" % t, 22, anchor="left")
for x, y, t, s in [(107, 22, "P53 (6 h)", 19), (266, 22, "P53 (30 min)", 18), (446, 22, "P53 (6 h)", 18),
                   (623, 23, "clCasp3 (6 h)", 18), (108, 359, "Tau", 19), (297, 364, "P53 (6 h)", 18),
                   (485, 364, "clCasp3 (6 h)", 18), (692, 364, "P53 activation (6 h)", 18)]:
    ptext(x, y, "<b>%s</b>" % t, s)
for x, y, t in [(15, 142, "nuclear stain (fold of wt)"), (530, 140, "positive cells (% of total)"),
                (13, 468, "Tau (% of ctrl)"), (212, 488, "nuclear stain (fold of wt)"),
                (396, 482, "positive cells (% of total)"), (583, 483, "activated cells (% of total)")]:
    ptext(x, y, t, 14, angle=-90)
legend(47, 43, 59, ["ctrl", "60 μM eto"])
legend(208, 43, 59, ["wt", "Tau-KO"])
legend(379, 43, 59, ["wt", "Tau-KO"])
legend(565, 43, 59, ["wt", "Tau-KO"])
legend(49, 386, 401, ["ctrl", "60 μM eto"])
legend(241, 384, 400, ["ctrl", "60 μM eto"])
legend(428, 384, 400, ["ctrl", "60 μM eto"])
legend(613, 385, 401, ["basal", "activated"])

fig.update_layout(width=W, height=H, autosize=False, margin=dict(l=0, r=0, t=0, b=0),
                  paper_bgcolor="white", plot_bgcolor="white", barmode="overlay", boxmode="overlay",
                  showlegend=False, font=dict(family=FONT, color="black"))
fig.write_html("out.html", config={"staticPlot": True},
               post_script="document.body.style.margin='0';document.body.style.padding='0';")
